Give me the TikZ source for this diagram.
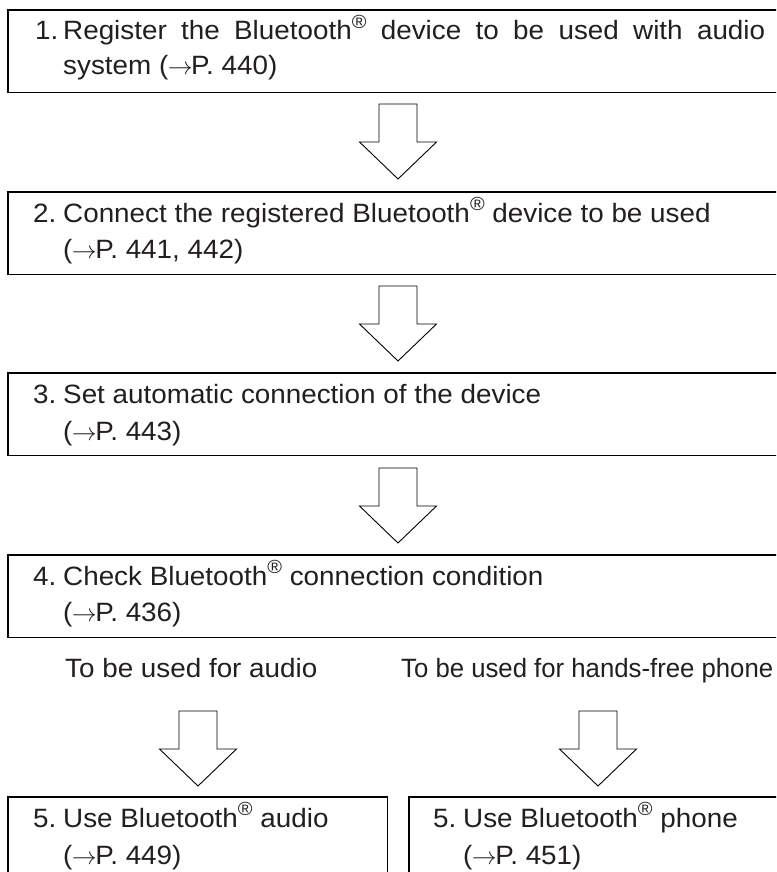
\documentclass[tikz,border=0pt]{standalone}
\usepackage{fontspec}
\setmainfont{Liberation Sans}[FakeStretch=1.05]
\definecolor{txtc}{HTML}{231F20}
\newcommand{\regmark}{\raisebox{0.42em}{\fontsize{19pt}{19pt}\selectfont ®}}
\newcommand{\pagearrow}{\kern-0.5pt\ensuremath{\rightarrow}\kern-1.5pt}
\begin{document}
\begin{tikzpicture}[x=1pt,y=-1pt,
  boxarea/.style={rectangle, inner sep=0pt, anchor=north west, minimum height=82pt},
  boxline/.style={draw=black, line width=1.2pt},
  arr/.style={draw=black, line width=0.9pt, fill=white, line join=miter},
  txt/.style={inner sep=0pt, anchor=base west, text=txtc, font=\fontsize{26.5pt}{37pt}\selectfont},
  blockarrow/.pic={\draw[arr] (-19,0) -- (19,0) -- (19,38) -- (38.5,38) -- (0,75) -- (-38.5,38) -- (-19,38) -- cycle;}]
\clip (0,0) rectangle (776,872);
\fill[white] (0,0) rectangle (776,872);
% boxes
\node[boxarea, minimum width=800pt] (b1) at (8,10) {};
\node[boxarea, minimum width=800pt] (b2) at (8,192) {};
\node[boxarea, minimum width=800pt] (b3) at (8,373) {};
\node[boxarea, minimum width=800pt] (b4) at (8,555) {};
\node[boxarea, minimum width=379pt, minimum height=100pt] (b5a) at (8,797) {};
\node[boxarea, minimum width=400pt, minimum height=100pt] (b5b) at (409,797) {};
\foreach \b in {b1,b2,b3,b4}{
  \draw[boxline] (\b.north east) -- (\b.north west) -- (\b.south west) -- (\b.south east);
}
\draw[boxline] (b5a.south west) -- (b5a.north west) -- (b5a.north east) -- (b5a.south east);
\draw[boxline] (b5b.south west) -- (b5b.north west) -- (b5b.north east);
% texts
\node[txt] (n1) at (35,40) {1.};
\node[txt] (t1a) at (63,40) {\makebox[702pt][s]{Register the Bluetooth\regmark{} device to be used with audio}};
\node[txt] (t1b) at (63,75) {system (\pagearrow P. 440)};
\node[txt] (n2) at (33,222) {2.};
\node[txt] (t2a) at (63,222) {Connect the registered Bluetooth\regmark{} device to be used};
\node[txt] (t2b) at (63,258) {(\pagearrow P. 441, 442)};
\node[txt] (n3) at (33,403) {3.};
\node[txt] (t3a) at (63,403) {Set automatic connection of the device};
\node[txt] (t3b) at (63,440) {(\pagearrow P. 443)};
\node[txt] (n4) at (33,585) {4.};
\node[txt] (t4a) at (63,585) {Check Bluetooth\regmark{} connection condition};
\node[txt] (t4b) at (63,621) {(\pagearrow P. 436)};
\node[txt] (la) at (65,677) {To be used for audio};
\node[txt] (lb) at (401,677) {\scalebox{0.925}[1]{To be used for hands-free phone}};
\node[txt] (n5a) at (33,827) {5.};
\node[txt] (t5a) at (63,827) {Use Bluetooth\regmark{} audio};
\node[txt] (t5b) at (63,864) {(\pagearrow P. 449)};
\node[txt] (n5b) at (433,827) {5.};
\node[txt] (t5c) at (463,827) {Use Bluetooth\regmark{} phone};
\node[txt] (t5d) at (463,864) {(\pagearrow P. 451)};
% block arrows
\pic at (398,104) {blockarrow};
\pic at (398,286) {blockarrow};
\pic at (398,468) {blockarrow};
\pic at (198,711) {blockarrow};
\pic at (598,711) {blockarrow};
\end{tikzpicture}
\end{document}
